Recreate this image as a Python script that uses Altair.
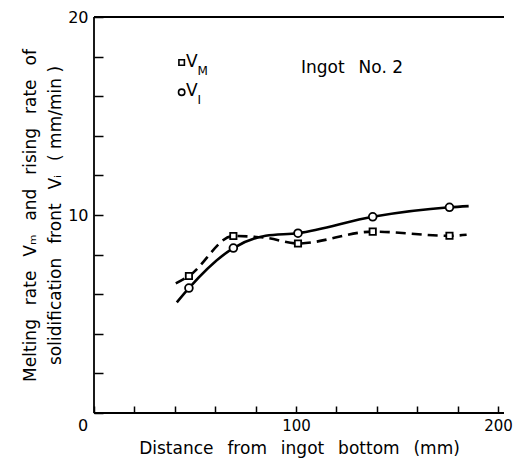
import altair as alt
import pandas as pd

# measured points
x_pts = [47, 69, 101, 138, 176]
vm_pts = [6.92, 8.94, 8.56, 9.16, 8.95]
vi_pts = [6.31, 8.33, 9.08, 9.91, 10.39]

# smooth curve knots
vm_curve_x = [40.5, 47, 69, 85, 101, 138, 176, 184.5]
vm_curve_y = [6.55, 6.92, 8.94, 8.85, 8.56, 9.16, 8.95, 9.0]
vi_curve_x = [41, 47, 69, 85, 101, 138, 176, 185.5]
vi_curve_y = [5.59, 6.31, 8.33, 8.95, 9.08, 9.91, 10.39, 10.45]

x_ticks = list(range(0, 201, 20))
y_ticks = list(range(0, 21, 2))

FONT = "DejaVu Sans"
SP = "\u2002 "  # wide word gap

xs = alt.Scale(domain=[0, 203], nice=False, zero=True)
ys = alt.Scale(domain=[0, 20], nice=False, zero=True)

xaxis = alt.Axis(
    values=x_ticks,
    labelExpr="datum.value % 100 == 0 && datum.value > 0 ? datum.label : ''",
    labelOverlap=False,
    domain=False, grid=False, ticks=True, tickSize=7, offset=-7,
    tickColor="black", tickWidth=1.5, labelPadding=5,
    labelFont=FONT, labelFontSize=15, labelColor="black",
    title=SP.join(["Distance", "from", "ingot", "bottom", "(mm)"]),
    titleFont=FONT, titleFontSize=17, titleFontWeight="normal",
    titleColor="black", titlePadding=7,
)
yaxis = alt.Axis(
    values=y_ticks,
    labelExpr="datum.value % 10 == 0 && datum.value > 0 ? datum.label : ''",
    labelOverlap=False,
    domain=False, grid=False, ticks=True, tickSize=9, offset=-9,
    tickColor="black", tickWidth=1.5, labelPadding=6,
    labelFont=FONT, labelFontSize=16, labelColor="black",
    title=[SP.join(["Melting", "rate", "Vₘ", "and", "rising", "rate", "of"]),
           SP.join(["solidification", "front", "Vᵢ", "(\u00a0mm/min\u00a0)"])],
    titleFont=FONT, titleFontSize=17, titleFontWeight="normal",
    titleColor="black", titlePadding=3, titleLineHeight=25,
)


def X(f):
    return alt.X(f"{f}:Q", scale=xs, axis=xaxis)


def Y(f):
    return alt.Y(f"{f}:Q", scale=ys, axis=yaxis)


pts = pd.DataFrame({"x": x_pts, "vm": vm_pts, "vi": vi_pts})
vm_curve = pd.DataFrame({"x": vm_curve_x, "y": vm_curve_y})
vi_curve = pd.DataFrame({"x": vi_curve_x, "y": vi_curve_y})

frame_h = alt.Chart(pd.DataFrame({"x": [0, 0], "y": [0, 20]})).mark_rule(
    color="black", strokeWidth=1.8).encode(y=Y("y"))
frame_v = alt.Chart(pd.DataFrame({"x": [0], "y": [0]})).mark_rule(
    color="black", strokeWidth=1.8).encode(x=X("x"))

vi_line = alt.Chart(vi_curve).mark_line(
    color="black", strokeWidth=2.6, interpolate="monotone").encode(
    x=X("x"), y=Y("y"))
vm_line = alt.Chart(vm_curve).mark_line(
    color="black", strokeWidth=2.6, strokeDash=[10, 6],
    interpolate="monotone").encode(x=X("x"), y=Y("y"))

vm_marks = alt.Chart(pts).mark_point(
    shape="square", filled=True, fill="white", stroke="black",
    strokeWidth=1.8, size=40, opacity=1).encode(x=X("x"), y=Y("vm"))
vi_marks = alt.Chart(pts).mark_point(
    shape="circle", filled=True, fill="white", stroke="black",
    strokeWidth=1.8, size=60, opacity=1).encode(x=X("x"), y=Y("vi"))

# legend
leg_x = [43.4]
leg_vm_y = [17.7]
leg_vi_y = [16.2]
leg_sq = alt.Chart(pd.DataFrame({"x": leg_x, "y": leg_vm_y})).mark_point(
    shape="square", filled=True, fill="white", stroke="black",
    strokeWidth=1.6, size=30, opacity=1).encode(x=X("x"), y=Y("y"))
leg_ci = alt.Chart(pd.DataFrame({"x": leg_x, "y": leg_vi_y})).mark_point(
    shape="circle", filled=True, fill="white", stroke="black",
    strokeWidth=1.6, size=40, opacity=1).encode(x=X("x"), y=Y("y"))

leg_txt = pd.DataFrame({"x": [45.6, 45.6], "y": [17.75, 16.25], "t": ["V", "V"]})
leg_sub = pd.DataFrame({"x": [51.2, 51.2], "y": [17.55, 16.05], "t": ["M", "I"]})
leg_t = alt.Chart(leg_txt).mark_text(
    align="left", baseline="middle", font=FONT, fontSize=17,
    color="black").encode(x=X("x"), y=Y("y"), text="t:N")
leg_s = alt.Chart(leg_sub).mark_text(
    align="left", baseline="top", font=FONT, fontSize=12,
    color="black").encode(x=X("x"), y=Y("y"), text="t:N")

ann = alt.Chart(pd.DataFrame({"x": [102.5], "y": [17.4], "t": ["Ingot" + SP + "No. 2"]})).mark_text(
    align="left", baseline="middle", font=FONT, fontSize=17,
    color="black").encode(x=X("x"), y=Y("y"), text="t:N")

zero_lbl = alt.Chart(pd.DataFrame({"x": [0], "y": [0], "t": ["0"]})).mark_text(
    align="center", baseline="middle", font=FONT, fontSize=16, dx=-11, dy=13,
    color="black").encode(x=X("x"), y=Y("y"), text="t:N")

chart = alt.layer(
    frame_h, frame_v, vm_line, vi_line, vm_marks, vi_marks,
    leg_sq, leg_ci, leg_t, leg_s, ann, zero_lbl,
).properties(
    width=410, height=396,
    autosize=alt.AutoSizeParams(type="none"),
    padding={"left": 86, "top": 9, "right": 10, "bottom": 49},
    background="white",
).configure_view(stroke=None)

chart.save("out.html", embed_options={"renderer": "svg", "actions": False})
